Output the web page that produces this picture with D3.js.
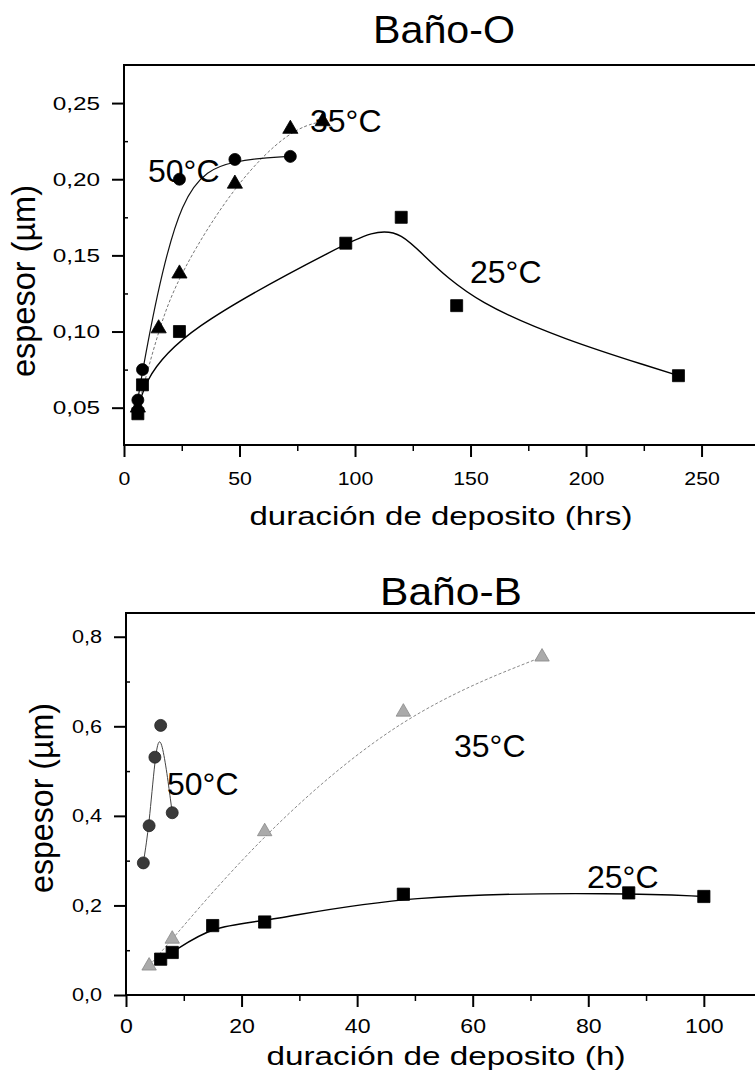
<!DOCTYPE html>
<html><head><meta charset="utf-8">
<script src="https://cdn.jsdelivr.net/npm/d3@7"></script>
<style>
body{margin:0;background:#fff}
svg{display:block}
text{font-family:"Liberation Sans", Arial, Helvetica, sans-serif; fill:#000}
</style>
</head><body>
<svg id="c" width="755" height="1074"></svg>
<script>
// ---------- Baño-O (top) ----------
const oX25 = [6, 8, 24, 96, 120, 144, 240];
const oY25 = [0.046, 0.065, 0.100, 0.158, 0.175, 0.117, 0.071];
const oX35 = [6, 15, 24, 48, 72, 86];
const oY35 = [0.050, 0.102, 0.138, 0.197, 0.233, 0.238];
const oX50 = [6, 8, 24, 48, 72];
const oY50 = [0.055, 0.075, 0.200, 0.213, 0.215];
const oXTicks = [0, 50, 100, 150, 200, 250];
const oXMinor = [25, 75, 125, 175, 225];
const oYTicks = [0.05, 0.10, 0.15, 0.20, 0.25];
const oYMinor = [0.075, 0.125, 0.175, 0.225];

// ---------- Baño-B (bottom) ----------
const bX25 = [6, 8, 15, 24, 48, 87, 100];
const bY25 = [0.080, 0.095, 0.155, 0.163, 0.225, 0.228, 0.220];
const bX35 = [4, 8, 24, 48, 72];
const bY35 = [0.065, 0.125, 0.365, 0.632, 0.755];
const bX50 = [3, 4, 5, 6, 8];
const bY50 = [0.295, 0.378, 0.531, 0.602, 0.407];
const bXTicks = [0, 20, 40, 60, 80, 100];
const bXMinor = [10, 30, 50, 70, 90];
const bYTicks = [0.0, 0.2, 0.4, 0.6, 0.8];
const bYMinor = [0.1, 0.3, 0.5, 0.7];

const svg = d3.select("#c");

function stretch(sel, sx) {
  sel.each(function () {
    const w = this.getComputedTextLength();
    d3.select(this).attr("textLength", w * sx).attr("lengthAdjust", "spacingAndGlyphs");
  });
}

function panel(o) {
  const g = svg.append("g");
  const x = d3.scaleLinear().domain(o.xDom).range([o.left, o.right]);
  const y = d3.scaleLinear().domain(o.yDom).range([o.bottom, o.top]);

  // title
  g.append("text").attr("x", o.title.x).attr("y", o.title.y)
    .attr("font-size", o.title.size).attr("textLength", o.title.len)
    .attr("lengthAdjust", "spacingAndGlyphs").text(o.title.t);

  // frame
  g.append("rect").attr("x", o.left).attr("y", o.top)
    .attr("width", o.right - o.left).attr("height", o.bottom - o.top)
    .attr("fill", "none").attr("stroke", "#000").attr("stroke-width", 2);

  const fmt = d => d3.format(o.yFmt)(d).replace(".", ",");

  // y axis major
  const ya = g.append("g").attr("transform", `translate(${o.left},0)`)
    .call(d3.axisLeft(y).tickValues(o.yTicks).tickSize(12).tickPadding(o.yPad).tickFormat(fmt));
  ya.attr("font-size", null).attr("font-family", null);
  ya.select(".domain").remove();
  ya.selectAll("line").attr("stroke-width", 2);
  ya.selectAll("text").attr("font-size", o.yFont);
  stretch(ya.selectAll("text"), o.ySx);
  // y minor (inward)
  const ym = g.append("g").attr("transform", `translate(${o.left},0)`)
    .call(d3.axisRight(y).tickValues(o.yMinor).tickSize(4).tickFormat(""));
  ym.select(".domain").remove();
  ym.selectAll("line").attr("stroke-width", 1.5);

  // x axis major
  const xa = g.append("g").attr("transform", `translate(0,${o.bottom})`)
    .call(d3.axisBottom(x).tickValues(o.xTicks).tickSize(12).tickPadding(o.xPad).tickFormat(d3.format("d")));
  xa.attr("font-size", null).attr("font-family", null);
  xa.select(".domain").remove();
  xa.selectAll("line").attr("stroke-width", 2);
  xa.selectAll("text").attr("font-size", o.xFont);
  stretch(xa.selectAll("text"), o.xSx);
  // x minor
  const xm = g.append("g").attr("transform", `translate(0,${o.bottom})`)
    .call(d3.axisBottom(x).tickValues(o.xMinor).tickSize(6).tickFormat(""));
  xm.select(".domain").remove();
  xm.selectAll("line").attr("stroke-width", 1.5);

  // axis titles
  g.append("text").attr("x", o.xTitle.x).attr("y", o.xTitle.y)
    .attr("text-anchor", "middle").attr("font-size", o.xTitle.size)
    .attr("textLength", o.xTitle.len).attr("lengthAdjust", "spacingAndGlyphs")
    .text(o.xTitle.t);
  g.append("text").attr("transform", `translate(${o.yTitle.x},${o.yTitle.y}) rotate(-90)`)
    .attr("text-anchor", "middle").attr("font-size", o.yTitle.size)
    .attr("textLength", o.yTitle.len).attr("lengthAdjust", "spacingAndGlyphs")
    .text(o.yTitle.t);

  // curves
  const line = d3.line().curve(d3.curveBasis).x(d => x(d[0])).y(d => y(d[1]));
  o.series.forEach(s => {
    g.append("path").datum(d3.zip(s.xs, s.ys)).attr("d", line)
      .attr("fill", "none").attr("stroke", s.lineColor).attr("stroke-width", s.lw)
      .attr("stroke-dasharray", s.dash || null);
  });
  // markers
  o.series.forEach(s => {
    const sym = d3.symbol(s.shape, s.size);
    g.selectAll(null).data(d3.zip(s.xs, s.ys)).join("path")
      .attr("transform", d => `translate(${x(d[0])},${y(d[1])})`)
      .attr("d", sym).attr("fill", s.fill).attr("stroke", s.stroke).attr("stroke-width", 0.8);
  });
  // series labels
  o.labels.forEach(l => {
    g.append("text").attr("x", l.x).attr("y", l.y).attr("font-size", 32).text(l.t);
  });
}

panel({
  left: 124, right: 757, top: 65, bottom: 445,
  xDom: [0, 274], yDom: [0.0255, 0.275],
  xTicks: oXTicks, xMinor: oXMinor, yTicks: oYTicks, yMinor: oYMinor,
  yFmt: ".2f", yFont: 19, ySx: 1.28, yPad: 12,
  xFont: 19, xSx: 1.12, xPad: 15,
  title: { t: "Baño-O", x: 373, y: 43, size: 39, len: 142 },
  xTitle: { t: "duración de deposito (hrs)", x: 441, y: 525, size: 25, len: 383 },
  yTitle: { t: "espesor (µm)", x: 35, y: 281, size: 33, len: 192 },
  series: [
    { xs: oX25, ys: oY25, shape: d3.symbolSquare, size: 144, fill: "#000", stroke: "#000", lineColor: "#000", lw: 1.4 },
    { xs: oX35, ys: oY35, shape: d3.symbolTriangle, size: 100, fill: "#000", stroke: "#000", lineColor: "#777", lw: 1, dash: "3,2" },
    { xs: oX50, ys: oY50, shape: d3.symbolCircle, size: 113, fill: "#000", stroke: "#000", lineColor: "#111", lw: 1.2 }
  ],
  labels: [
    { t: "50°C", x: 148, y: 182 },
    { t: "35°C", x: 310, y: 132 },
    { t: "25°C", x: 470, y: 283 }
  ]
});

panel({
  left: 126, right: 757, top: 613, bottom: 995,
  xDom: [0, 109.2], yDom: [0, 0.853],
  xTicks: bXTicks, xMinor: bXMinor, yTicks: bYTicks, yMinor: bYMinor,
  yFmt: ".1f", yFont: 18, ySx: 1.2, yPad: 12,
  xFont: 21, xSx: 1.1, xPad: 11,
  title: { t: "Baño-B", x: 380, y: 605, size: 39, len: 142 },
  xTitle: { t: "duración de deposito (h)", x: 446, y: 1065, size: 25, len: 359 },
  yTitle: { t: "espesor (µm)", x: 53, y: 798, size: 33, len: 190 },
  series: [
    { xs: bX25, ys: bY25, shape: d3.symbolSquare, size: 150, fill: "#000", stroke: "#000", lineColor: "#000", lw: 1.4 },
    { xs: bX35, ys: bY35, shape: d3.symbolTriangle, size: 90, fill: "#aaa", stroke: "#888", lineColor: "#888", lw: 1, dash: "3,2" },
    { xs: bX50, ys: bY50, shape: d3.symbolCircle, size: 113, fill: "#3a3a3a", stroke: "#222", lineColor: "#444", lw: 1 }
  ],
  labels: [
    { t: "50°C", x: 167, y: 795 },
    { t: "35°C", x: 454, y: 757 },
    { t: "25°C", x: 587, y: 888 }
  ]
});
</script>
</body></html>
